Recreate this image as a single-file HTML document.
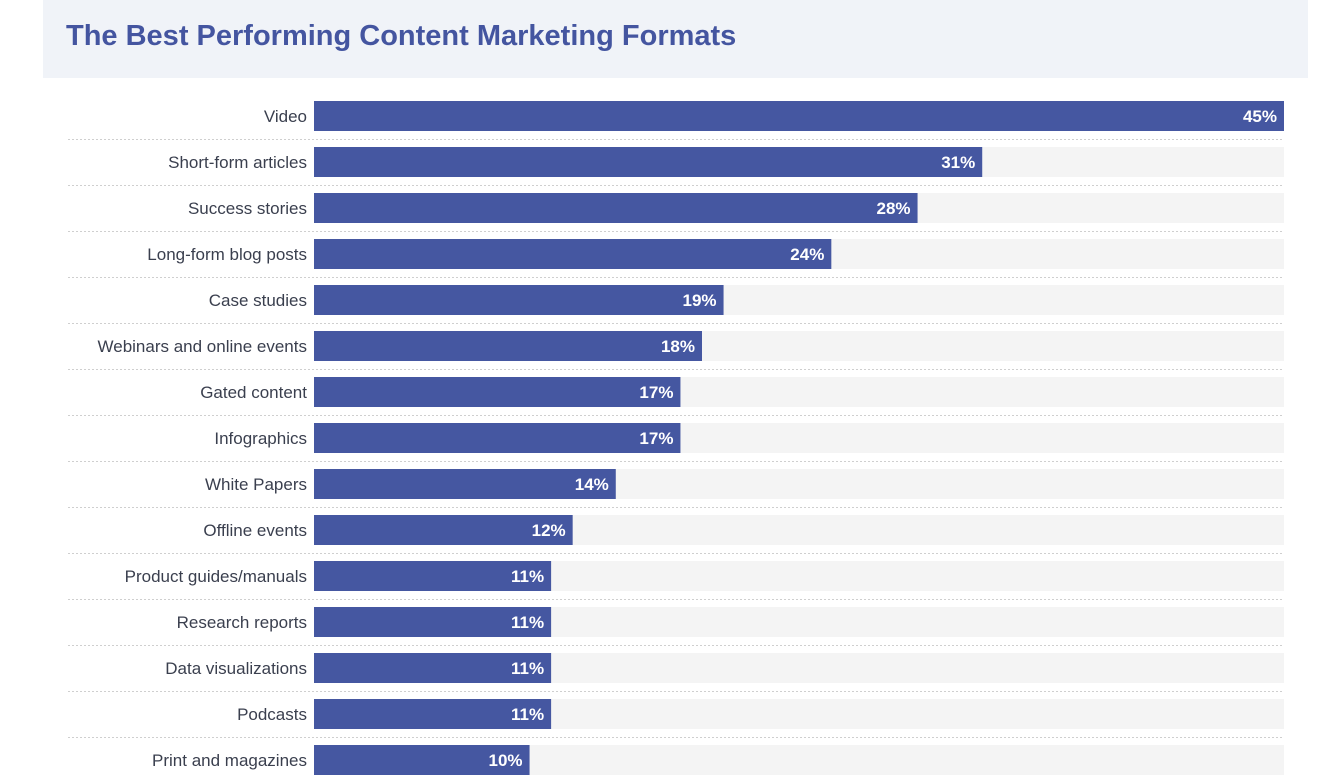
<!DOCTYPE html>
<html><head><meta charset="utf-8">
<style>
html,body{margin:0;padding:0;background:#fff;width:1323px;height:775px;overflow:hidden}
svg{display:block;font-family:"Liberation Sans",sans-serif}
</style></head>
<body>
<svg id="chart" width="1323" height="775" viewBox="0 0 1323 775" xmlns="http://www.w3.org/2000/svg">
<rect x="43" y="0" width="1265" height="78" fill="#f0f3f8"/>
<text x="66" y="45" font-size="29" font-weight="bold" fill="#4455a0">The Best Performing Content Marketing Formats</text>
<g id="rows"></g>
</svg>
<script>
const categories = ["Video","Short-form articles","Success stories","Long-form blog posts","Case studies","Webinars and online events","Gated content","Infographics","White Papers","Offline events","Product guides/manuals","Research reports","Data visualizations","Podcasts","Print and magazines"];
const values = [45,31,28,24,19,18,17,17,14,12,11,11,11,11,10];
const maxValue = 45;

const NS = "http://www.w3.org/2000/svg";
const g = document.getElementById("rows");
const x0 = 314, x1 = 1284, top0 = 101, pitch = 46, barH = 30;
function xScale(v){ return x0 + (x1 - x0) * v / maxValue; }
function yScale(i){ return top0 + i * pitch; }
function mk(tag, attrs){ const e = document.createElementNS(NS, tag); for (const k in attrs) e.setAttribute(k, attrs[k]); return e; }

categories.forEach((c, i) => {
  const y = yScale(i);
  const track = mk("rect", {x: x0, y: y, width: x1 - x0, height: barH, fill: "#f4f4f4"});
  
  
  g.appendChild(track);
  const bar = mk("rect", {x: x0, y: y, width: xScale(values[i]) - x0, height: barH, fill: "#4557a1"});
  
  
  g.appendChild(bar);
  const lab = mk("text", {x: 307, y: y + 21, "text-anchor": "end", "font-size": "17", fill: "#3a3f4e"});
  lab.textContent = c;
  
  
  g.appendChild(lab);
  const val = mk("text", {x: xScale(values[i]) - 7, y: y + 21, "text-anchor": "end", "font-size": "17", "font-weight": "bold", fill: "#ffffff"});
  val.textContent = values[i] + "%";
  
  
  g.appendChild(val);
  if (i < categories.length - 1) {
    const ln = mk("line", {x1: 68, x2: x1, y1: y + 38.5, y2: y + 38.5, stroke: "#cfcfcf", "stroke-width": "1", "stroke-dasharray": "2,2"});
    
    
    g.appendChild(ln);
  }
});
</script>
</body></html>
